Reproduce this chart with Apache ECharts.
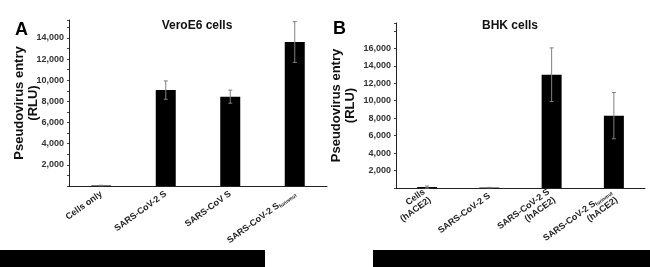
<!DOCTYPE html>
<html><head><meta charset="utf-8">
<script src="https://cdn.jsdelivr.net/npm/echarts@6/dist/echarts.min.js"></script>
<style>html,body{margin:0;padding:0;background:#fff}#c{width:650px;height:267px}</style>
</head><body><div id="c"></div>
<script>
// Panel A: VeroE6 cells
const catsA = ['Cells only', 'SARS-CoV-2 S', 'SARS-CoV S', 'SARS-CoV-2 S|furinmut'];
const valsA = [50, 9070, 8450, 13620];
const errA = [20, 870, 620, 1930];
// Panel B: BHK cells
const catsB = ['Cells\n(hACE2)', 'SARS-CoV-2 S', 'SARS-CoV-2 S\n(hACE2)', 'SARS-CoV-2 S|furinmut\n(hACE2)'];
const valsB = [110, 50, 12980, 8290];
const errB = [120, 20, 3070, 2650];
const titleA = 'VeroE6 cells', titleB = 'BHK cells';
const yName = 'Pseudovirus entry\n(RLU)';
const FONT = '"Liberation Sans", Arial, sans-serif';

function fmtCat(v) {
  if (v.indexOf('|') >= 0) {
    const p = v.split('|');
    const rest = p[1].split('\n');
    let s = '{a|' + p[0] + '}{s|' + rest[0] + '}';
    if (rest.length > 1) s += '\n{a|' + rest[1] + '}';
    return s;
  }
  return v.split('\n').map(t => '{a|' + t + '}').join('\n');
}
const catRich = {
  a: {fontSize: 9, fontWeight: 'bold', color: '#222', fontFamily: FONT, lineHeight: 10},
  s: {fontSize: 5, fontWeight: 'bold', color: '#222', fontFamily: FONT, lineHeight: 10, verticalAlign: 'bottom'}
};
function errSeries(idx, vals, errs) {
  return {
    type: 'custom', xAxisIndex: idx, yAxisIndex: idx, z: 5,
    data: vals.map((v, i) => [i, v - errs[i], v + errs[i]]),
    renderItem: function (params, api) {
      const lo = api.coord([api.value(0), api.value(1)]);
      const hi = api.coord([api.value(0), api.value(2)]);
      const x = lo[0], w = 2;
      const st = {stroke: '#808080', lineWidth: 1};
      return {type: 'group', children: [
        {type: 'line', shape: {x1: x, y1: lo[1], x2: x, y2: hi[1]}, style: st},
        {type: 'line', shape: {x1: x - w, y1: lo[1], x2: x + w, y2: lo[1]}, style: st},
        {type: 'line', shape: {x1: x - w, y1: hi[1], x2: x + w, y2: hi[1]}, style: st}
      ]};
    }
  };
}
function yAx(idx, max, interval, labelMax, gap) {
  return {
    type: 'value', gridIndex: idx, min: 0, max: max, interval: interval,
    name: yName, nameLocation: 'middle', nameGap: gap, nameMoveOverlap: false,
    nameTextStyle: {fontSize: 13, fontWeight: 'bold', color: '#111', fontFamily: FONT, lineHeight: 14},
    splitLine: {show: false},
    axisLine: {show: true, lineStyle: {color: '#222', width: 1}},
    axisTick: {show: true, length: 2, lineStyle: {color: '#444'}},
    axisLabel: {
      margin: 5, fontSize: 9, fontWeight: 'bold', color: '#333', fontFamily: FONT,
      formatter: function (v) {
        if (v === 0 || v > labelMax || v % 2000 !== 0) return '';
        return v.toLocaleString('en-US');
      }
    }
  };
}
function xAx(idx, cats) {
  return {
    type: 'category', gridIndex: idx, data: cats,
    axisLine: {show: true, lineStyle: {color: '#222', width: 1}},
    axisTick: {show: false},
    axisLabel: {interval: 0, rotate: 36, margin: 7, formatter: fmtCat, rich: catRich, align: 'right'}
  };
}
const chart = echarts.init(document.getElementById('c'));
chart.setOption({
  animation: false,
  grid: [
    {left: 69, right: 323, top: 20, bottom: 81},
    {left: 396, right: 5, top: 23, bottom: 79}
  ],
  title: [
    {text: titleA, left: 192, top: 15, textAlign: 'center', textStyle: {fontSize: 12, fontWeight: 'bold', color: '#111', fontFamily: FONT}},
    {text: titleB, left: 505, top: 15, textAlign: 'center', textStyle: {fontSize: 12, fontWeight: 'bold', color: '#111', fontFamily: FONT}},
    {text: 'A', left: 10, top: 16, textStyle: {fontSize: 18, fontWeight: 'bold', color: '#000', fontFamily: FONT}},
    {text: 'B', left: 328, top: 15, textStyle: {fontSize: 18, fontWeight: 'bold', color: '#000', fontFamily: FONT}}
  ],
  xAxis: [xAx(0, catsA), xAx(1, catsB)],
  yAxis: [yAx(0, 15700, 1000, 14000, 29), yAx(1, 18900, 2000, 16000, 39)],
  series: [
    {type: 'bar', xAxisIndex: 0, yAxisIndex: 0, data: valsA, barWidth: 20, itemStyle: {color: '#000'}},
    {type: 'bar', xAxisIndex: 1, yAxisIndex: 1, data: valsB, barWidth: 20, itemStyle: {color: '#000'}},
    errSeries(0, valsA, errA),
    errSeries(1, valsB, errB)
  ],
  graphic: [
    {type: 'rect', shape: {x: 0, y: 250, width: 265, height: 17}, style: {fill: '#000'}},
    {type: 'rect', shape: {x: 373, y: 250, width: 277, height: 17}, style: {fill: '#000'}}
  ]
});
</script></body></html>
